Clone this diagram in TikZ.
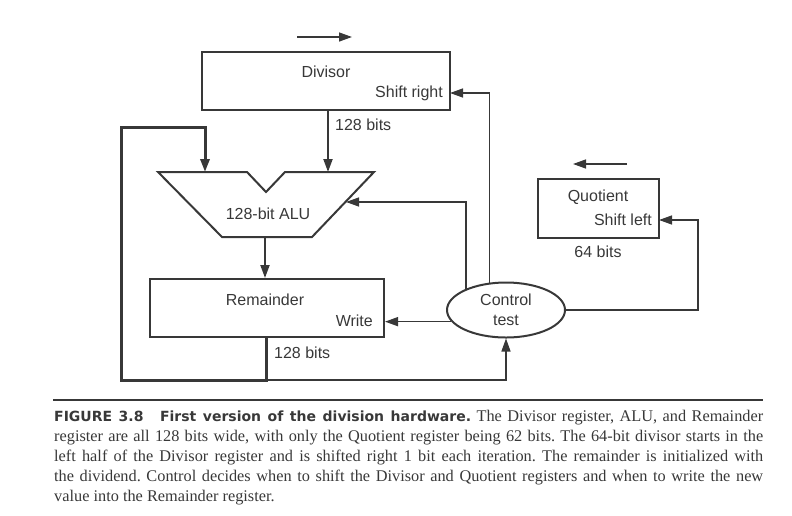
\documentclass[tikz,border=0pt]{standalone}
\usepackage{fontspec}
\setmainfont{Liberation Sans}
\newfontfamily\capserif{Liberation Serif}
\newfontfamily\capbold{DejaVu Sans}
\usepackage{tikz}
\usetikzlibrary{arrows.meta,shapes.geometric,positioning,calc}
\definecolor{ink}{HTML}{383838}
\tikzstyle{reg} = [draw=ink, line width=2pt, inner sep=0pt]
\tikzstyle{lbl} = [inner sep=0pt, text=ink, font=\fontsize{16}{20}\selectfont]
\tikzstyle{bus} = [draw=ink, line width=2pt]
\tikzstyle{fat} = [draw=ink, line width=3pt]
\tikzstyle{ctl} = [draw=ink, line width=1.4pt]
\tikzstyle{arrow} = [-{Triangle[length=13pt,width=9pt]}]
\tikzstyle{capline} = [inner sep=0pt, anchor=base west, text=ink, font=\capserif\fontsize{16.3}{20}\selectfont\frenchspacing]
\newcommand{\capwidth}{709pt}

\begin{document}
\begin{tikzpicture}[x=1pt,y=-1pt]
	\useasboundingbox (0,0) rectangle (792,515);
	
	% registers
	\node[reg, minimum width=248pt, minimum height=58pt] (div) at (326,81) {};
	\node[lbl] (divname) at (326,72) {Divisor};
	\node[lbl, anchor=east] (divshift) at (443,93) {Shift right};
	
	\node[reg, minimum width=234pt, minimum height=58pt] (rem) at (267,308) {};
	\node[lbl] (remname) at (265,300) {Remainder};
	\node[lbl, anchor=east] (remwrite) at (373,321) {Write};
	
	\node[reg, minimum width=121pt, minimum height=59pt] (quo) at (598.5,208.5) {};
	\node[lbl] (quoname) at (598,197) {Quotient};
	\node[lbl, anchor=east] (quoshift) at (652,220) {Shift left};
	
	\node[reg, ellipse, minimum width=118pt, minimum height=55pt, lbl, align=center] (ctrl) at (506,310) {Control\\test};
	
	% ALU
	\draw[reg, line join=miter] (158,172) -- (247,172) -- (266,192) -- (285,172) -- (374,172) -- (312,237) -- (222,237) -- cycle;
	\node[lbl] (alu) at (268,214) {128-bit ALU};
	\coordinate (aluinl) at (205,172);
	\coordinate (aluinr) at (328,172);
	\coordinate (aluinc) at (346,202);
	\coordinate (aluout) at (265,237);
	
	% shift directions
	\coordinate (dsh0) at (297,37);
	\coordinate (dsh1) at (352,37);
	\draw[ctl,arrow] (dsh0) -- (dsh1);
	\coordinate (qsh0) at (627,164);
	\coordinate (qsh1) at (573,164);
	\draw[ctl,arrow] (qsh0) -- (qsh1);
	
	% data paths
	\draw[bus,arrow] (div.south -| aluinr) -- (aluinr);
	\node[lbl, anchor=west] (divbits) at (335,125) {128 bits};
	\draw[bus,arrow] (aluout) -- (aluout |- rem.north);
	
	\coordinate (remtap) at (266,380);
	\coordinate (lftbot) at (121,380);
	\coordinate (lfttop) at (121,127);
	\draw[fat,arrow] (rem.south -| remtap) -- (remtap) -- (lftbot) -- (lfttop) -| (aluinl);
	\node[lbl, anchor=west] (rembits) at (274,353) {128 bits};
	\node[lbl] (quobits) at (598,252) {64 bits};
	
	% control
	\coordinate (dsr) at (450,93);
	\coordinate (qsl) at (659,220);
	\coordinate (qturn) at (698,310);
	\draw[ctl,arrow] (ctrl.121) |- (dsr);
	\draw[ctl,arrow] (ctrl.152) |- (aluinc);
	\draw[ctl,arrow] (ctrl.192) -- (ctrl.192 -| rem.east);
	\draw[ctl,arrow] (ctrl.east) -- (qturn) |- (qsl);
	\draw[ctl,arrow] (remtap) -| (ctrl.south);
	
	% caption
	\coordinate (rule0) at (53,400);
	\coordinate (rule1) at (763,400);
	\draw[draw=ink, line width=1.5pt] (rule0) -- (rule1);
	\node[capline] (cap1) at (54,421) {\makebox[\capwidth][s]{{\capbold\bfseries\fontsize{14}{20}\selectfont FIGURE 3.8\hspace{10pt} First version of the division hardware.} The Divisor register, ALU, and Remainder}};
	\node[capline] (cap2) at (54,441) {\makebox[\capwidth][s]{register are all 128 bits wide, with only the Quotient register being 62 bits. The 64-bit divisor starts in the}};
	\node[capline] (cap3) at (54,461) {\makebox[\capwidth][s]{left half of the Divisor register and is shifted right 1 bit each iteration. The remainder is initialized with}};
	\node[capline] (cap4) at (54,481) {\makebox[\capwidth][s]{the dividend. Control decides when to shift the Divisor and Quotient registers and when to write the new}};
	\node[capline] (cap5) at (54,501) {value into the Remainder register.};
\end{tikzpicture}
\end{document}
